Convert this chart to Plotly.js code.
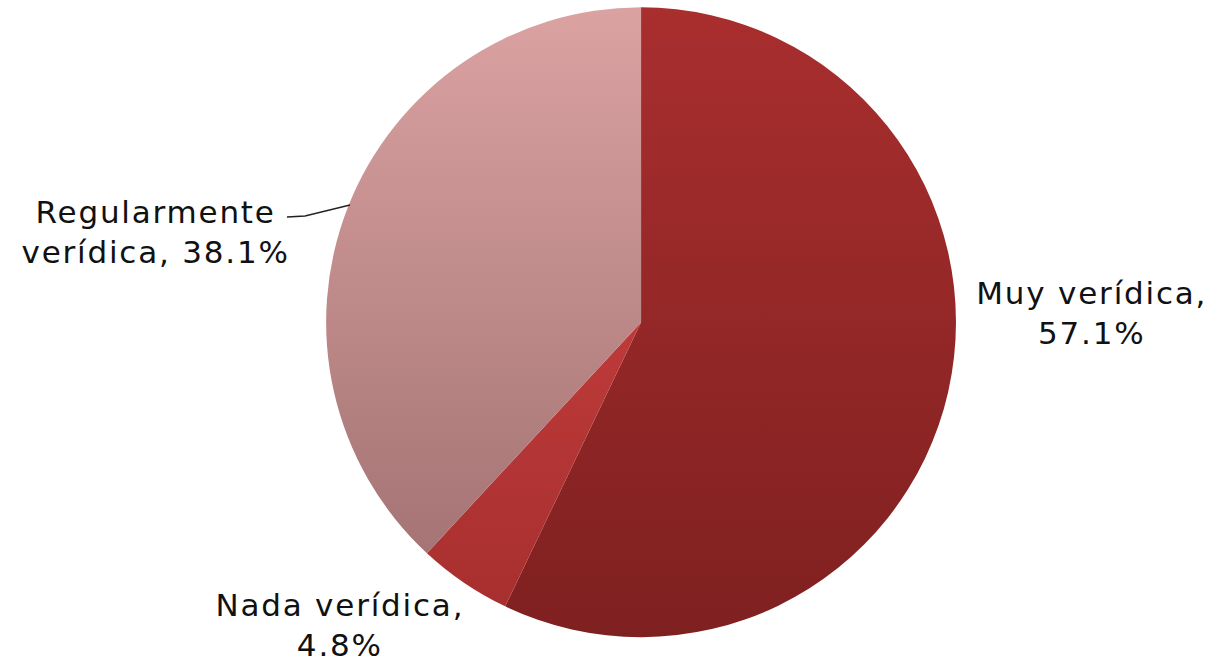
<!DOCTYPE html>
<html>
<head>
<meta charset="utf-8">
<script src="https://cdn.plot.ly/plotly-3.0.1.min.js"></script>
<style>
html,body{margin:0;padding:0;background:#fff;}
#chart{width:1217px;height:663px;}
#chart .annotation-text{letter-spacing:1.8px;}
</style>
</head>
<body>
<div id="chart"></div>
<script>
// Data
const categories = ["Muy verídica", "Nada verídica", "Regularmente verídica"];
const values = [57.1, 4.8, 38.1];
const labelTexts = ["Muy verídica,<br>57.1%", "Nada verídica,<br>4.8%", "Regularmente<br>verídica, 38.1%"];

// Styles
const baseColors = ["#962828", "#b03434", "#c08a8a"];
const gradients = [["#a92e2e", "#7f2020"], ["#be3a3a", "#a82f2f"], ["#dba2a2", "#a57474"]];
const labelPos = [[0.897, 0.528], [0.279, 0.057], [0.128, 0.650]];

const trace = {
  type: "pie",
  labels: categories,
  values: values,
  sort: false,
  direction: "clockwise",
  rotation: 0,
  textinfo: "none",
  hoverinfo: "label+percent",
  marker: {colors: baseColors, line: {width: 0}},
  domain: {x: [0.2679, 0.7856], y: [0.039, 0.989]},
  showlegend: false
};

const annotations = labelTexts.map((t, i) => ({
  text: t, xref: "paper", yref: "paper",
  x: labelPos[i][0], y: labelPos[i][1],
  xanchor: "center", yanchor: "middle", align: "center",
  showarrow: false,
  font: {family: "DejaVu Sans, Verdana, sans-serif", size: 31, color: "#111111"}
}));

const layout = {
  width: 1217, height: 663,
  margin: {l: 0, r: 0, t: 0, b: 0},
  paper_bgcolor: "#ffffff",
  annotations: annotations,
  shapes: [{
    type: "path", xref: "paper", yref: "paper",
    path: "M 0.2358,0.6727 L 0.2506,0.6742 L 0.2876,0.6908",
    line: {color: "#222222", width: 1.4}
  }]
};

Plotly.newPlot("chart", [trace], layout, {displayModeBar: false, staticPlot: true}).then(gd => {
  const svgNS = "http://www.w3.org/2000/svg";
  const svg = gd.querySelector(".main-svg");
  let defs = svg.querySelector("defs");
  if (!defs) { defs = document.createElementNS(svgNS, "defs"); svg.insertBefore(defs, svg.firstChild); }
  gradients.forEach((g, i) => {
    const lg = document.createElementNS(svgNS, "linearGradient");
    lg.setAttribute("id", "sliceGrad" + i);
    lg.setAttribute("x1", "0"); lg.setAttribute("y1", "0");
    lg.setAttribute("x2", "0"); lg.setAttribute("y2", "1");
    [[0, g[0]], [1, g[1]]].forEach(([o, c]) => {
      const s = document.createElementNS(svgNS, "stop");
      s.setAttribute("offset", o); s.setAttribute("stop-color", c);
      lg.appendChild(s);
    });
    defs.appendChild(lg);
  });
  gd.querySelectorAll("g.slice path.surface").forEach((p, i) => {
    p.style.fill = "url(#sliceGrad" + i + ")";
  });
});
</script>
</body>
</html>
